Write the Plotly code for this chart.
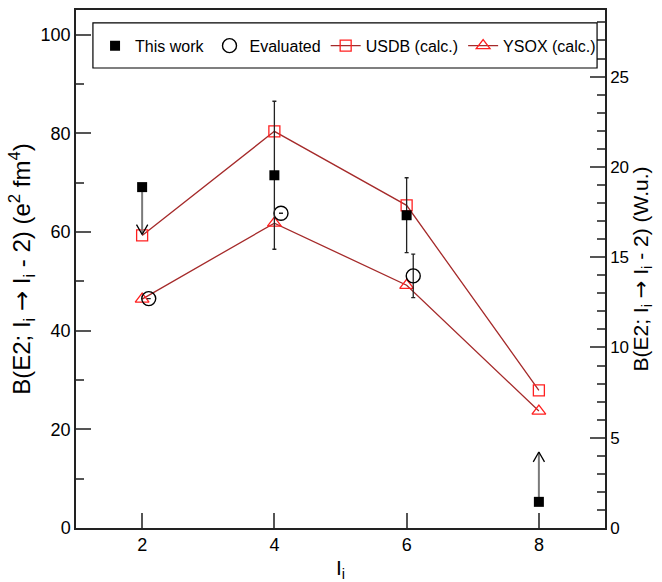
import plotly.graph_objects as go

# ---- data ----
spins = [2, 4, 6, 8]
this_work = [69.1, 71.5, 63.4, 5.3]
this_work_err = [None, 15.0, 7.6, None]
limit_spin = [2, 8]
limit_from = [69.1, 5.3]
limit_to = [59.5, 15.4]

eval_spins = [2.1, 4.1, 6.1]
evaluated = [46.5, 63.8, 51.1]
evaluated_err = [None, None, 4.4]

usdb = [59.3, 80.4, 65.4, 27.9]
ysox = [46.4, 61.8, 49.2, 23.7]

WU = 3.66  # e^2 fm^4 per W.u.
YMAX = 105

FONT = "Liberation Sans, Arial, sans-serif"
LINE_RED = "#a52a2a"
MARK_RED = "#ff2020"
ARROW = "<span style='font-family:DejaVu Sans'>→</span>"

fig = go.Figure()

# calculations
fig.add_trace(go.Scatter(
    x=spins, y=usdb, mode="lines+markers", name="USDB (calc.)",
    line=dict(color=LINE_RED, width=1.3),
    marker=dict(symbol="square-open", size=11, color=MARK_RED, line=dict(width=1.3, color=MARK_RED)),
))
fig.add_trace(go.Scatter(
    x=spins, y=ysox, mode="lines+markers", name="YSOX (calc.)",
    line=dict(color=LINE_RED, width=1.3),
    marker=dict(symbol="triangle-up-open", size=12, color=MARK_RED, line=dict(width=1.3, color=MARK_RED)),
))

# limit arrows (shaft + open head)
for xs, y0, y1 in zip(limit_spin, limit_from, limit_to):
    fig.add_trace(go.Scatter(x=[xs, xs], y=[y0, y1], mode="lines",
                             line=dict(color="#7a7a7a", width=2),
                             showlegend=False, hoverinfo="skip"))
    d = 2.0 if y1 < y0 else -2.0
    fig.add_trace(go.Scatter(x=[xs - 0.085, xs, xs + 0.085], y=[y1 + d, y1, y1 + d],
                             mode="lines", line=dict(color="black", width=1.3),
                             showlegend=False, hoverinfo="skip"))

# evaluated
fig.add_trace(go.Scatter(
    x=eval_spins, y=evaluated, mode="markers", name="Evaluated",
    marker=dict(symbol="circle-open", size=14, color="black", line=dict(width=1.4, color="black")),
    error_y=dict(type="data", array=evaluated_err, color="#222222", thickness=1.3, width=2),
))

# this work
fig.add_trace(go.Scatter(
    x=spins, y=this_work, mode="markers", name="This work",
    marker=dict(symbol="square", size=10, color="black"),
    error_y=dict(type="data", array=this_work_err, color="#222222", thickness=1.3, width=2),
))

# dummy trace to show right axis
fig.add_trace(go.Scatter(x=[1], y=[0], yaxis="y2", mode="markers",
                         marker=dict(opacity=0), showlegend=False, hoverinfo="skip"))

# legend order
order = {"This work": 1, "Evaluated": 2, "USDB (calc.)": 3, "YSOX (calc.)": 4}
for tr in fig.data:
    if tr.name in order:
        tr.legendrank = order[tr.name]

axis_common = dict(
    showline=True, linecolor="#222222", linewidth=1.5,
    ticks="inside", ticklen=15, tickwidth=1.5, tickcolor="#555555",
    showgrid=False, zeroline=False, automargin=False,
    tickfont=dict(family=FONT, size=18, color="black"),
)

fig.update_layout(
    width=662, height=582,
    margin=dict(l=76, r=57, t=10, b=54, autoexpand=False),
    paper_bgcolor="white", plot_bgcolor="white",
    font=dict(family=FONT, size=18, color="black"),
    xaxis=dict(
        **axis_common, range=[1, 9], tickvals=spins, mirror=True,
        title=dict(text="I<sub>i</sub>", font=dict(family=FONT, size=21), standoff=8),
    ),
    yaxis=dict(
        **axis_common, range=[0, YMAX], dtick=20,
        minor=dict(dtick=10, ticks="inside", ticklen=8, tickcolor="#555555", tickwidth=1.5),
        title=dict(text=f"B(E2; I<sub>i</sub> {ARROW} I<sub>i</sub> - 2) (e<sup>2</sup> fm<sup>4</sup>)",
                   font=dict(family=FONT, size=24), standoff=3),
    ),
    yaxis2=dict(
        **{k: v for k, v in axis_common.items() if k != "tickfont"},
        tickfont=dict(family=FONT, size=17, color="black"),
        overlaying="y", side="right", range=[0, YMAX / WU], dtick=5,
        minor=dict(dtick=1, ticks="inside", ticklen=8, tickcolor="#555555", tickwidth=1.5),
        title=dict(text=f"B(E2; I<sub>i</sub> {ARROW} I<sub>i</sub> - 2) (W.u.)",
                   font=dict(family=FONT, size=21), standoff=3),
    ),
    legend=dict(
        orientation="h", x=0.036, y=0.931, xanchor="left", yanchor="middle",
        borderwidth=0, bgcolor="rgba(0,0,0,0)",
        font=dict(family=FONT, size=16), itemwidth=30, tracegroupgap=0,
    ),
    shapes=[dict(type="rect", xref="paper", yref="paper",
                 x0=0.032, x1=0.985, y0=0.888, y1=0.975,
                 line=dict(color="black", width=1.2), fillcolor="white", layer="above")],
    showlegend=True,
)

fig.write_html("out.html")
